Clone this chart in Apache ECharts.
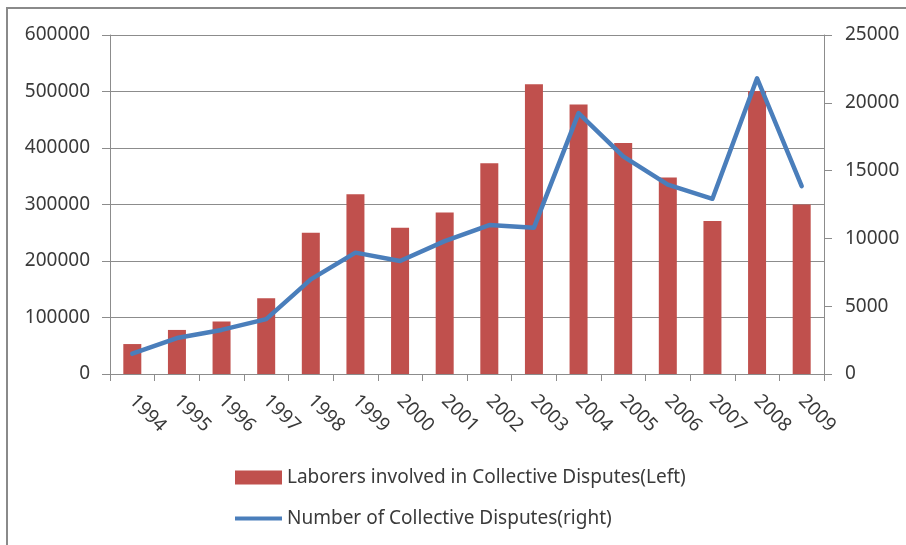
<!DOCTYPE html>
<html>
<head>
<meta charset="utf-8">
<style>
  html, body { margin: 0; padding: 0; background: #ffffff; }
  #chart { width: 906px; height: 545px; }
</style>
<script src="https://cdn.jsdelivr.net/npm/echarts@6/dist/echarts.min.js"></script>
</head>
<body>
<div id="chart"></div>
<script>
// Years on the category axis
const years = ['1994', '1995', '1996', '1997', '1998', '1999', '2000', '2001',
               '2002', '2003', '2004', '2005', '2006', '2007', '2008', '2009'];

// Laborers involved in collective disputes (left axis)
const laborers = [53000, 78000, 93000, 134000, 250000, 318000, 259000, 286000,
                  373000, 513000, 477000, 409000, 348000, 271000, 501000, 300000];

// Number of collective disputes (right axis)
const disputes = [1500, 2650, 3250, 4050, 6980, 8950, 8330, 9800,
                  10980, 10790, 19240, 16050, 13970, 12920, 21810, 13850];

// Axis tick settings
const leftMax = 600000, leftStep = 100000;
const rightMax = 25000, rightStep = 5000;

const barName = 'Laborers involved in Collective Disputes(Left)';
const lineName = 'Number of Collective Disputes(right)';

const textColor = '#3a3a3a';
const axisGray = '#8c8c8c';
const fontFamily = '"Noto Sans", "Open Sans", sans-serif';
const plainNumber = v => String(v);

const chart = echarts.init(document.getElementById('chart'), null, { renderer: 'canvas' });

chart.setOption({
  backgroundColor: '#ffffff',
  animation: false,
  textStyle: { fontFamily: fontFamily, color: textColor },
  grid: { left: 110, right: 82, top: 35, bottom: 171, containLabel: false },
  graphic: [
    // frame edges of the chart area
    { type: 'line', shape: { x1: 6, y1: 8, x2: 906, y2: 8 },
      style: { stroke: '#8a8a8a', lineWidth: 2 }, silent: true },
    { type: 'line', shape: { x1: 7, y1: 8, x2: 7, y2: 545 },
      style: { stroke: '#8a8a8a', lineWidth: 2 }, silent: true }
  ],
  legend: [
    {
      orient: 'vertical', left: 235, top: 468, padding: 0,
      data: [{ name: barName, icon: 'rect' }],
      itemWidth: 47, itemHeight: 14,
      textStyle: { fontSize: 19, color: textColor, fontFamily: fontFamily }
    },
    {
      orient: 'vertical', left: 235, top: 509, padding: 0,
      data: [{ name: lineName, icon: 'rect' }],
      itemWidth: 47, itemHeight: 4,
      textStyle: { fontSize: 19, color: textColor, fontFamily: fontFamily }
    }
  ],
  xAxis: {
    type: 'category',
    data: years,
    boundaryGap: true,
    axisLine: { lineStyle: { color: axisGray, width: 1 } },
    axisTick: { show: true, length: 7, alignWithLabel: false, lineStyle: { color: axisGray } },
    axisLabel: { rotate: -45, margin: 24, fontSize: 19, color: textColor, fontFamily: fontFamily, interval: 0 },
    splitLine: { show: false }
  },
  yAxis: [
    {
      type: 'value', min: 0, max: leftMax, interval: leftStep,
      axisLine: { show: true, lineStyle: { color: axisGray } },
      axisTick: { show: true, length: 8, lineStyle: { color: axisGray } },
      axisLabel: { margin: 20, fontSize: 19, color: textColor, fontFamily: fontFamily, formatter: plainNumber },
      splitLine: { show: true, lineStyle: { color: axisGray, width: 1 } }
    },
    {
      type: 'value', min: 0, max: rightMax, interval: rightStep, position: 'right',
      axisLine: { show: true, lineStyle: { color: axisGray } },
      axisTick: { show: true, length: 8, lineStyle: { color: axisGray } },
      axisLabel: { margin: 21, fontSize: 19, color: textColor, fontFamily: fontFamily, formatter: plainNumber },
      splitLine: { show: false }
    }
  ],
  series: [
    {
      name: barName, type: 'bar', yAxisIndex: 0, data: laborers,
      barWidth: 18,
      itemStyle: { color: '#C0504D' }
    },
    {
      name: lineName, type: 'line', yAxisIndex: 1, data: disputes,
      showSymbol: false, symbol: 'none',
      lineStyle: { color: '#4A7EBB', width: 4.5, cap: 'round', join: 'round' },
      itemStyle: { color: '#4A7EBB' }
    }
  ]
});
</script>
</body>
</html>
